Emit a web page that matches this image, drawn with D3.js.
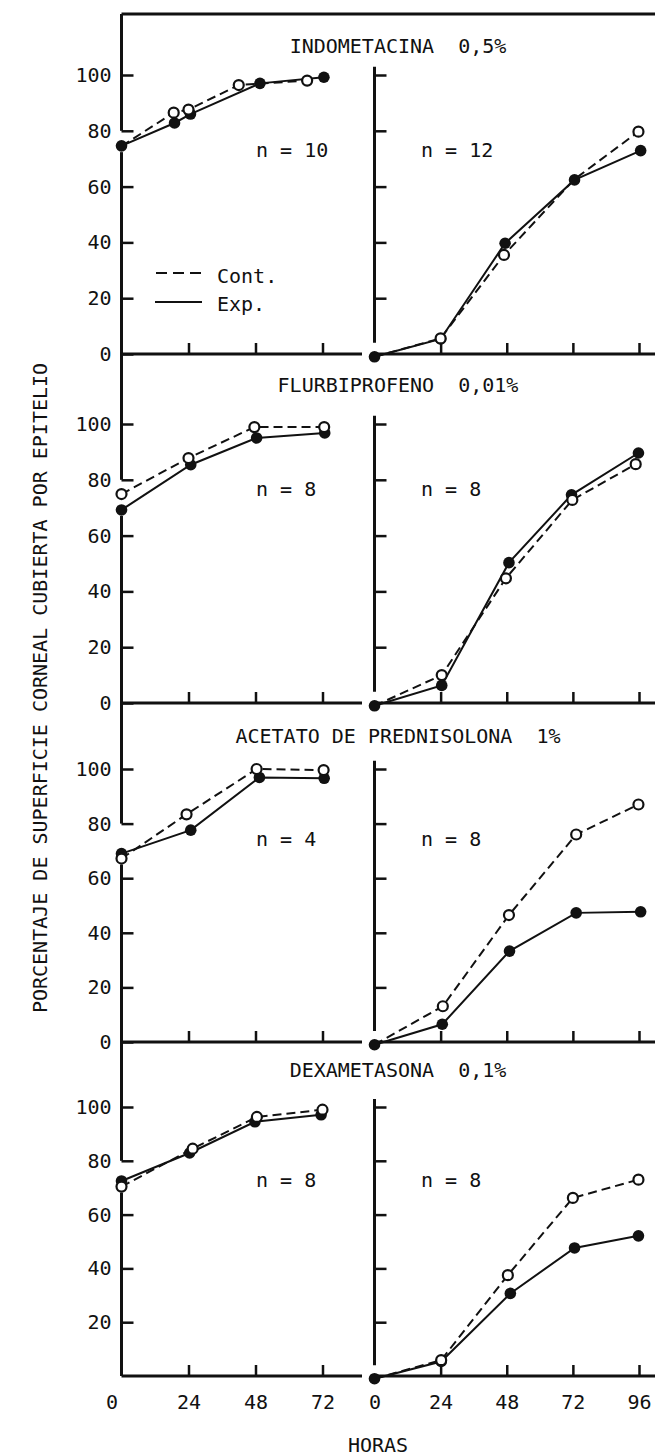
<!DOCTYPE html>
<html>
<head>
<meta charset="utf-8">
<script src="https://cdn.jsdelivr.net/npm/d3@7"></script>
<style>
  body { margin: 0; background: #fff; }
  text { font-family: "DejaVu Sans Mono", monospace; fill: #111; }
</style>
</head>
<body>
<script>
// panel titles and group sizes
var titles = ["INDOMETACINA  0,5%", "FLURBIPROFENO  0,01%",
              "ACETATO DE PREDNISOLONA  1%", "DEXAMETASONA  0,1%"];
var nLeft = [10, 8, 4, 8];
var nRight = [12, 8, 8, 8];

// [hours, % covered]
var contLeft = [
    [[0, 74.5], [18.7, 86.5], [24, 87.6], [42, 96.4], [66.5, 98]],
    [[0, 74.9], [24, 87.8], [47.6, 98.9], [72.6, 98.9]],
    [[0, 67.2], [23.3, 83.4], [48.4, 100], [72.4, 99.6]],
    [[0, 70.4], [25.5, 84.5], [48.5, 96.3], [72, 99]]
];
var expLeft = [
    [[0, 74.6], [19, 82.8], [24.7, 86], [49.6, 97], [72.5, 99.2]],
    [[0, 69.2], [24.8, 85.4], [48.4, 95], [72.8, 96.8]],
    [[0, 69], [24.8, 77.6], [49.4, 96.9], [72.6, 96.6]],
    [[0, 72.5], [24.4, 82.9], [47.8, 94.5], [71.5, 97.1]]
];
var contRight = [
    [[0, -1], [24, 5.6], [47, 35.5], [72.4, 62.5], [95.8, 79.7]],
    [[0, -1], [24.4, 10], [47.7, 44.7], [71.8, 72.8], [94.8, 85.6]],
    [[0, -1], [24.8, 13.1], [48.8, 46.5], [73.2, 76], [95.8, 87]],
    [[0, -1], [24.2, 5.9], [48.4, 37.5], [72, 66.2], [95.8, 73]]
];
var expRight = [
    [[0, -1], [24, 5.4], [47.4, 39.7], [72.6, 62.4], [96.6, 72.9]],
    [[0, -1], [24.4, 6.3], [48.8, 50.3], [71.5, 74.6], [95.8, 89.6]],
    [[0, -1], [24.6, 6.5], [49, 33.3], [73.2, 47.3], [96.6, 47.7]],
    [[0, -1], [24.2, 5.4], [49.3, 30.7], [72.6, 47.6], [95.8, 52.1]]
];
// open markers that sit fully under a filled one: [side, panel, index]
var hiddenCont = [["L", 0, 0], ["R", 0, 0], ["R", 0, 3],
                  ["R", 1, 0], ["R", 2, 0], ["R", 3, 0]];

var yTicks = [0, 20, 40, 60, 80, 100];
var xTicksLeft = [0, 24, 48, 72];
var xTicksRight = [0, 24, 48, 72, 96];

// layout of the four stacked panels
var W = 655, H = 1456;
var zeroY = [354, 703, 1042, 1376];
var hundredY = [75, 424, 769, 1107];
var panelTop = [14, 354, 703, 1042];
var titleY = [53, 392, 743, 1077];
var nY = [157, 496, 846, 1187];
var fontSize = 20;

var svg = d3.select("body").append("svg")
    .attr("width", W)
    .attr("height", H);

var xL = d3.scaleLinear().domain([0, 72]).range([121.5, 322.5]);
var xR = d3.scaleLinear().domain([0, 96]).range([374.5, 639]);

function isHidden(side, p, i) {
    return hiddenCont.some(function(h) {
        return h[0] == side && h[1] == p && h[2] == i;
    });
}

// frame top
svg.append("line")
    .attr("x1", xL(0)).attr("y1", panelTop[0])
    .attr("x2", W).attr("y2", panelTop[0])
    .style("stroke", "#111").style("stroke-width", 3);

titles.forEach(function(title, p) {
    var y = d3.scaleLinear().domain([0, 100]).range([zeroY[p], hundredY[p]]);

    // left axis, broken between the 80 tick and the first markers
    var firstMin = Math.min(contLeft[p][0][1], expLeft[p][0][1]);
    svg.append("line")
        .attr("x1", xL(0)).attr("y1", panelTop[p])
        .attr("x2", xL(0)).attr("y2", y(80))
        .style("stroke", "#111").style("stroke-width", 3);
    svg.append("line")
        .attr("x1", xL(0)).attr("y1", y(firstMin) + 6)
        .attr("x2", xL(0)).attr("y2", zeroY[p])
        .style("stroke", "#111").style("stroke-width", 3);

    var ticksHere = p == 3 ? yTicks.slice(1) : yTicks;
    var axL = svg.append("g")
        .attr("transform", "translate(" + xL(0) + ",0)")
        .call(d3.axisLeft(y).tickValues(ticksHere).tickSize(-12).tickPadding(10));
    axL.select(".domain").remove();
    axL.selectAll("line").style("stroke", "#111").style("stroke-width", 2.5);
    axL.selectAll("text").attr("font-size", fontSize)
        .attr("font-family", "DejaVu Sans Mono");

    // right axis (no zero tick, stops short of the base line)
    svg.append("line")
        .attr("x1", xR(0)).attr("y1", y(103))
        .attr("x2", xR(0)).attr("y2", y(4))
        .style("stroke", "#111").style("stroke-width", 3);
    var axR = svg.append("g")
        .attr("transform", "translate(" + xR(0) + ",0)")
        .call(d3.axisLeft(y).tickValues(yTicks.slice(1)).tickSize(-12).tickFormat(""));
    axR.select(".domain").remove();
    axR.selectAll("line").style("stroke", "#111").style("stroke-width", 2.5);

    // base lines
    svg.append("line")
        .attr("x1", xL(0)).attr("y1", zeroY[p])
        .attr("x2", 362).attr("y2", zeroY[p])
        .style("stroke", "#111").style("stroke-width", 3);
    svg.append("line")
        .attr("x1", xR(0)).attr("y1", zeroY[p])
        .attr("x2", W).attr("y2", zeroY[p])
        .style("stroke", "#111").style("stroke-width", 3);

    var last = p == 3;
    var gxL = svg.append("g")
        .attr("transform", "translate(0," + zeroY[p] + ")")
        .call(d3.axisBottom(xL).tickValues(xTicksLeft).tickSize(-11).tickPadding(19)
            .tickFormat(last ? d3.format("d") : ""));
    var gxR = svg.append("g")
        .attr("transform", "translate(0," + zeroY[p] + ")")
        .call(d3.axisBottom(xR).tickValues(xTicksRight).tickSize(-11).tickPadding(19)
            .tickFormat(last ? d3.format("d") : ""));
    [gxL, gxR].forEach(function(g) {
        g.select(".domain").remove();
        g.selectAll("line").filter(function(d) { return d == 0; }).remove();
        g.selectAll("line").style("stroke", "#111").style("stroke-width", 2.5);
        g.selectAll("text").attr("font-size", fontSize)
            .attr("font-family", "DejaVu Sans Mono");
    });
    // the first "0" sits a little left of the axis
    gxL.selectAll("text").filter(function(d) { return d == 0; }).attr("dx", -10);

    // titles and n
    svg.append("text")
        .attr("x", 398).attr("y", titleY[p])
        .attr("text-anchor", "middle")
        .style("font-size", fontSize)
        .style("white-space", "pre")
        .text(title);
    svg.append("text")
        .attr("x", 256).attr("y", nY[p])
        .style("font-size", fontSize)
        .style("white-space", "pre")
        .text("n = " + nLeft[p]);
    svg.append("text")
        .attr("x", 421).attr("y", nY[p])
        .style("font-size", fontSize)
        .style("white-space", "pre")
        .text("n = " + nRight[p]);

    // series
    var sides = [
        {key: "L", x: xL, cont: contLeft[p], exp: expLeft[p]},
        {key: "R", x: xR, cont: contRight[p], exp: expRight[p]}
    ];
    sides.forEach(function(s) {
        var line = d3.line()
            .x(function(d) { return s.x(d[0]); })
            .y(function(d) { return y(d[1]); });

        svg.append("path")
            .datum(s.cont)
            .attr("d", line)
            .style("fill", "none")
            .style("stroke", "#111")
            .style("stroke-width", 2)
            .style("stroke-dasharray", "9,5");
        svg.append("path")
            .datum(s.exp)
            .attr("d", line)
            .style("fill", "none")
            .style("stroke", "#111")
            .style("stroke-width", 2);

        svg.append("g").selectAll("circle")
            .data(s.exp)
            .enter()
            .append("circle")
            .attr("cx", function(d) { return s.x(d[0]); })
            .attr("cy", function(d) { return y(d[1]); })
            .attr("r", 5.8)
            .style("fill", "#111");

        svg.append("g").selectAll("circle")
            .data(s.cont.filter(function(d, i) { return !isHidden(s.key, p, i); }))
            .enter()
            .append("circle")
            .attr("cx", function(d) { return s.x(d[0]); })
            .attr("cy", function(d) { return y(d[1]); })
            .attr("r", 5)
            .style("fill", "#fff")
            .style("stroke", "#111")
            .style("stroke-width", 2.2);
    });
});

// legend in the first panel
svg.append("line")
    .attr("x1", 156).attr("y1", 273).attr("x2", 202).attr("y2", 273)
    .style("stroke", "#111").style("stroke-width", 2)
    .style("stroke-dasharray", "11,6");
svg.append("line")
    .attr("x1", 155).attr("y1", 302).attr("x2", 202).attr("y2", 302)
    .style("stroke", "#111").style("stroke-width", 2);
svg.append("text").attr("x", 217).attr("y", 283)
    .style("font-size", fontSize).text("Cont.");
svg.append("text").attr("x", 217).attr("y", 311)
    .style("font-size", fontSize).text("Exp.");

// axis titles
svg.append("text")
    .attr("x", 378).attr("y", 1452)
    .attr("text-anchor", "middle")
    .style("font-size", fontSize)
    .text("HORAS");
svg.append("text")
    .attr("transform", "translate(40,688) rotate(-90)")
    .attr("text-anchor", "middle")
    .attr("dy", "0.36em")
    .style("font-size", fontSize)
    .text("PORCENTAJE DE SUPERFICIE CORNEAL CUBIERTA POR EPITELIO");
</script>
</body>
</html>
